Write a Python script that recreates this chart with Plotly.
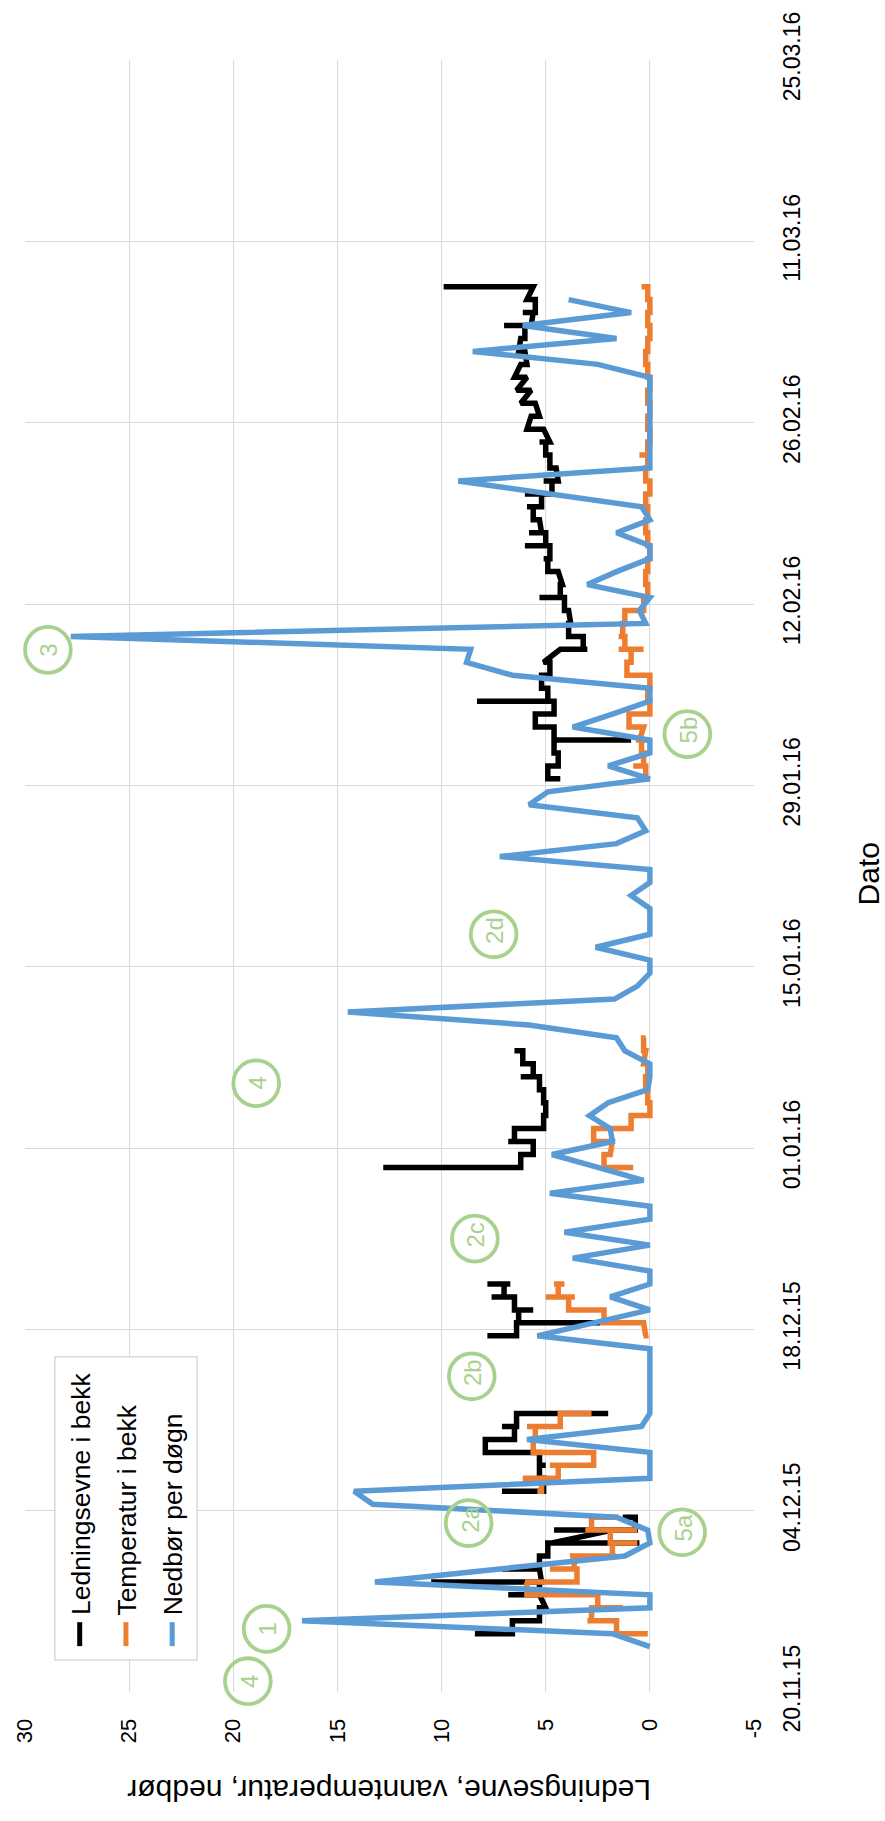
import pandas as pd
import plotly.graph_objects as go

# ---------------- data ----------------
# Daily precipitation (mm per day), starting 23.11.2015
precip_start = "2015-11-23"
precip = [
    0, 1.8, 16.7, 0, 0, 13.2, 7.2, 1.2, 0, 0.1,
    1.6, 13.3, 14.2, 0, 0, 0, 5.9, 0.4, 0, 0,
    0, 0, 0, 0, 5.4, 2.7, 0, 1.9, 0, 0,
    3.7, 0, 4.1, 0, 0, 4.8, 0.3, 2.5, 4.7, 1.8,
    1.9, 2.9, 2.0, 0.1, 0, 0, 1.2, 1.6, 5.8, 14.5,
    1.7, 0.6, 0, 0, 2.6, 0, 0, 0, 0.9, 0,
    0, 7.2, 1.6, 0.2, 0.6, 5.8, 4.9, 0, 2.0, 0,
    0, 3.7, 1.8, 0, 0, 6.6, 8.8, 8.6, 27.8, 0.2,
    0.5, 0, 3.0, 1.6, 0, 0, 1.6, 0, 0.4, 4.8,
    9.2, 0, 0, 0, 0, 0, 0, 0, 0, 2.5,
    8.5, 1.6, 6.1, 0.9, 3.9,
]

# Conductivity in the stream: logger readings grouped per day, one list per day,
# each block starts on the given date and runs on consecutive days
cond_blocks = [
    ("2015-11-24", [
        [8.4, 6.6], [6.6, 5.3], [5.3, 5.0], [5.3, 6.8, 5.3], [5.3, 10.5, 5.2],
        [5.3, 7.1, 5.3], [5.3, 4.9], [4.9, 0.5, 4.7], [1.8, 4.6, 0.7], [0.7, 1.3],
    ]),
    ("2015-12-05", [
        [7.1, 5.1], [5.1, 5.3], [5.3, 5.0, 5.3], [5.3, 7.9], [7.9, 6.5],
        [6.5, 7.1, 6.4], [6.4, 2.0],
    ]),
    ("2015-12-17", [
        [7.8, 6.4], [6.4, 2.4, 6.3], [6.3, 5.6, 6.5], [6.5, 7.6, 7.0], [7.0, 7.8, 6.7],
    ]),
    ("2015-12-30", [
        [12.8, 6.2], [6.2, 5.6], [5.6, 6.8, 6.5], [6.5, 5.1], [5.1, 5.0],
        [5.0, 5.1], [5.1, 5.3], [5.3, 6.2, 5.6], [5.6, 6.1], [6.1, 6.5],
    ]),
    ("2016-01-29", [
        [4.3, 4.9], [4.9, 4.4], [4.4, 4.6], [4.6, 0.9, 4.6], [4.6, 5.5],
        [5.5, 4.6], [4.6, 8.3, 4.9], [4.9, 5.2], [5.2, 4.8], [4.8, 5.1],
        [4.3, 3.0, 3.2], [3.2, 3.9], [3.9, 3.8], [3.9, 4.1], [4.1, 5.3, 4.3],
        [4.3, 4.2], [4.4, 4.9], [4.9, 5.1, 4.8], [4.8, 6.0, 5.0], [5.0, 5.8, 5.2],
        [5.3, 5.6], [5.6, 5.9, 5.2], [5.2, 6.0, 4.7], [4.7, 5.1, 4.4], [4.5, 4.8],
        [4.8, 5.0], [5.0, 5.3, 4.8], [5.1, 5.9], [5.7, 5.3], [5.5, 6.2],
        [5.7, 6.4], [5.9, 6.5], [6.2, 5.9], [6.0, 6.3], [6.2, 6.0],
        [6.0, 7.0, 5.7], [5.6, 6.1, 5.5], [5.5, 5.9], [5.6, 9.9],
    ]),
]

# Water temperature in the stream (deg C), same layout as above
temp_blocks = [
    ("2015-11-24", [
        [0.1, 1.8, 1.6], [1.6, 3.0, 2.8], [2.8, 1.3, 2.5], [2.5, 5.9], [5.9, 6.0, 3.5],
        [3.5, 4.8, 3.6], [3.7, 1.6, 1.8], [1.8, 0.6, 1.9], [1.9, 3.1, 0.6, 2.8], [2.8, 1.5, 2.7],
    ]),
    ("2015-12-05", [
        [5.4, 5.2], [5.2, 6.1, 4.4], [4.4, 4.8, 2.7], [2.7, 5.6], [5.6, 5.8, 5.5],
        [5.5, 5.9, 4.3], [4.3, 2.8],
    ]),
    ("2015-12-17", [
        [0.3, 0.2], [0.3, 2.4, 2.2], [2.2, 3.9], [3.9, 3.6, 5.0, 4.4], [4.4, 4.6, 4.1],
    ]),
    ("2015-12-30", [
        [0.8, 2.2], [2.2, 1.9], [1.8, 2.7], [2.7, 0.9], [0.9, 0.0],
        [0.0, 0.1], [0.1, 0.2], [0.2, 0.1], [0.1, 0.3], [0.2, 0.3], [0.3, 0.2],
    ]),
    ("2016-01-29", [
        [0.0, 0.2], [0.2, 0.8, 0.3], [0.3, 0.0, 0.4], [0.4, 0.0, 0.5], [0.3, 1.0],
        [1.0, 0.0], [0.0, 0.1], [0.1, 0.0], [0.0, 1.1], [1.1, 0.9],
        [0.9, 1.5, 0.3, 1.2], [1.2, 1.5, 1.3], [1.3, 1.2], [1.2, 1.0, 0.3], [0.3, 0.1],
        [0.1, 0.2], [0.2, 0.1], [0.1, 0.0], [0.0, 0.1], [0.1, 0.2],
        [0.2, 0.1], [0.1, 0.2], [0.2, 0.0], [0.0, 0.2], [0.2, 0.1],
        [0.1, 0.5, 0.1], [0.1, 0.0], [0.0, 0.1], [0.1, 0.0], [0.0, 0.1],
        [0.1, 0.0], [0.0, 0.1], [0.1, 0.2], [0.2, 0.1], [0.1, 0.0],
        [0.0, 0.1], [0.1, 0.0], [0.0, 0.1], [0.1, 0.4],
    ]),
]

series_names = ["Ledningsevne i bekk", "Temperatur i bekk", "Nedbør per døgn"]
series_colors = ["#000000", "#ED7D31", "#5B9BD5"]

value_ticks = [30, 25, 20, 15, 10, 5, 0, -5]
date_ticks = ["2015-11-20", "2015-12-04", "2015-12-18", "2016-01-01", "2016-01-15",
              "2016-01-29", "2016-02-12", "2016-02-26", "2016-03-11", "2016-03-25"]

# numbered site / event markers: (label, value, date)
markers = [
    ("4", 19.3, "2015-11-20 20:00"),
    ("1", 18.4, "2015-11-24 21:00"),
    ("2a", 8.7, "2015-12-03 01:00"),
    ("5a", -1.55, "2015-12-02 08:00"),
    ("2b", 8.55, "2015-12-14 09:00"),
    ("2c", 8.4, "2015-12-25 00:00"),
    ("4", 18.9, "2016-01-06 00:00"),
    ("2d", 7.5, "2016-01-17 12:00"),
    ("5b", -1.8, "2016-02-01 23:00"),
    ("3", 28.9, "2016-02-08 11:00"),
]

# ---------------- figure ----------------
W, H = 885, 1821
ML, MR, MT, MB = 21, 131, 56, 129
PW, PH = W - ML - MR, H - MT - MB

def px(X):
    return (X - ML) / PW

def py(Y):
    return (H - MB - Y) / PH

def xv(v):
    # pixel column of a value on the reversed value axis
    return ML + (30 - v) / 35 * PW

NOON = pd.Timedelta(hours=12)
T0, T1 = pd.Timestamp(date_ticks[0]), pd.Timestamp(date_ticks[-1])

def yd(ts):
    ts = pd.Timestamp(ts)
    return H - MB - (ts - T0) / (T1 - T0) * PH


def block_xy(blocks):
    xs, ys = [], []
    for start, days in blocks:
        t = pd.Timestamp(start)
        for i, readings in enumerate(days):
            day = t + pd.Timedelta(days=i) + NOON
            for r in readings:
                xs.append(r)
                ys.append(day)
        xs.append(None)
        ys.append(None)
    return xs, ys


fig = go.Figure()

cx, cy = block_xy(cond_blocks)
fig.add_trace(go.Scatter(x=cx, y=cy, mode="lines", name=series_names[0],
                         line=dict(color=series_colors[0], width=5.5),
                         connectgaps=False))
tx, ty = block_xy(temp_blocks)
fig.add_trace(go.Scatter(x=tx, y=ty, mode="lines", name=series_names[1],
                         line=dict(color=series_colors[1], width=5.5),
                         connectgaps=False))
p_days = [pd.Timestamp(precip_start) + pd.Timedelta(days=i) + NOON for i in range(len(precip))]
fig.add_trace(go.Scatter(x=precip, y=p_days, mode="lines", name=series_names[2],
                         line=dict(color=series_colors[2], width=5.5)))

GREEN = "#A9D18E"
shapes, annotations = [], []

# event markers: green rings with rotated labels
for label, val, when in markers:
    X, Y = xv(val), yd(when)
    r = 23
    shapes.append(dict(type="circle", xref="paper", yref="paper",
                       x0=px(X - r), x1=px(X + r), y0=py(Y + r), y1=py(Y - r),
                       line=dict(color=GREEN, width=3.8), layer="above"))
    annotations.append(dict(xref="paper", yref="paper", x=px(X + 1),
                            y=py(Y - (4 if len(label) > 1 else 0)),
                            text=label, showarrow=False, textangle=-90,
                            xanchor="center", yanchor="middle",
                            font=dict(size=24, color=GREEN, family="Liberation Sans, Arial")))

# legend box, drawn rotated with the rest of the chart
LX0, LX1, LY0, LY1 = 51, 194, 1356, 1660
shapes.append(dict(type="rect", xref="paper", yref="paper",
                   x0=px(LX0), x1=px(LX1), y0=py(LY1), y1=py(LY0),
                   line=dict(color="#D9D9D9", width=1.5), fillcolor="white", layer="above"))
for i, (name, col) in enumerate(zip(series_names, series_colors)):
    X = 76 + i * 46.5
    shapes.append(dict(type="line", xref="paper", yref="paper",
                       x0=px(X), x1=px(X), y0=py(1646), y1=py(1622),
                       line=dict(color=col, width=5), layer="above"))
    annotations.append(dict(xref="paper", yref="paper", x=px(X + 1), y=py(1617),
                            text=name, showarrow=False, textangle=-90,
                            xanchor="center", yanchor="bottom",
                            font=dict(size=26.5, color="#000000", family="Liberation Sans, Arial")))

# axis titles
annotations.append(dict(xref="paper", yref="paper", x=px(387), y=py(1790),
                        text="Ledningsevne, vanntemperatur, nedbør", showarrow=False,
                        textangle=180, xanchor="center", yanchor="middle",
                        font=dict(size=30, color="#000000", family="Liberation Sans, Arial")))
annotations.append(dict(xref="paper", yref="paper", x=px(869), y=py(872),
                        text="Dato", showarrow=False, textangle=-90,
                        xanchor="center", yanchor="middle",
                        font=dict(size=30, color="#000000", family="Liberation Sans, Arial")))

fig.update_layout(
    width=W, height=H,
    margin=dict(l=ML, r=MR, t=MT, b=MB, pad=0),
    paper_bgcolor="white", plot_bgcolor="white",
    showlegend=False,
    shapes=shapes, annotations=annotations,
    xaxis=dict(
        range=[30, -5], tickmode="array", tickvals=value_ticks,
        ticktext=[str(v) for v in value_ticks], tickangle=-90,
        showgrid=True, gridcolor="#D9D9D9", gridwidth=1, zeroline=False,
        showline=False, ticks="outside", ticklen=17, tickcolor="rgba(0,0,0,0)",
        tickfont=dict(size=22, color="#000000", family="Liberation Sans, Arial"),
    ),
    yaxis=dict(
        type="date", range=[date_ticks[0], date_ticks[-1]], side="right",
        tickmode="array", tickvals=date_ticks,
        ticktext=[pd.Timestamp(d).strftime("%d.%m.%y") for d in date_ticks],
        tickangle=-90, showgrid=True, gridcolor="#D9D9D9", gridwidth=1,
        zeroline=False, showline=False, ticks="outside", ticklen=17,
        tickcolor="rgba(0,0,0,0)",
        tickfont=dict(size=23, color="#000000", family="Liberation Sans, Arial"),
    ),
)

fig.write_html("out.html")
